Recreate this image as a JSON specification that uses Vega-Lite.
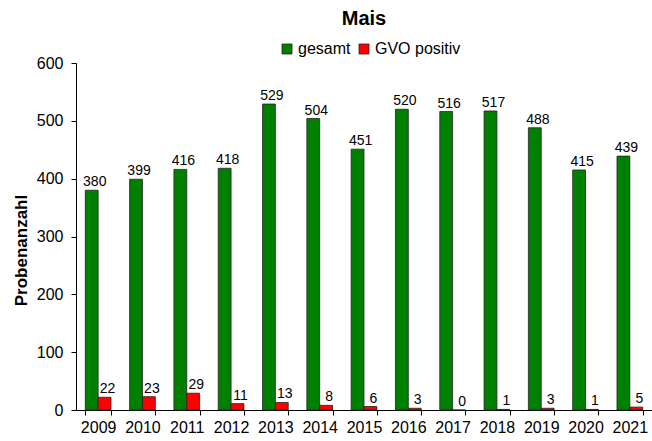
{
  "$schema": "https://vega.github.io/schema/vega-lite/v6.json",
  "width": 576,
  "height": 347,
  "autosize": "none",
  "padding": {"left": 76, "top": 63, "right": 0, "bottom": 31},
  "background": "white",
  "title": {"text": "Mais", "fontSize": 20, "fontWeight": "bold", "font": "Liberation Sans", "anchor": "middle", "offset": 12, "color": "black"},
  "config": {"view": {"stroke": null}, "font": "Liberation Sans"},
  "data": {"values": [
    {"year": "2009", "series": "gesamt", "value": 380}, {"year": "2009", "series": "GVO positiv", "value": 22},
    {"year": "2010", "series": "gesamt", "value": 399}, {"year": "2010", "series": "GVO positiv", "value": 23},
    {"year": "2011", "series": "gesamt", "value": 416}, {"year": "2011", "series": "GVO positiv", "value": 29},
    {"year": "2012", "series": "gesamt", "value": 418}, {"year": "2012", "series": "GVO positiv", "value": 11},
    {"year": "2013", "series": "gesamt", "value": 529}, {"year": "2013", "series": "GVO positiv", "value": 13},
    {"year": "2014", "series": "gesamt", "value": 504}, {"year": "2014", "series": "GVO positiv", "value": 8},
    {"year": "2015", "series": "gesamt", "value": 451}, {"year": "2015", "series": "GVO positiv", "value": 6},
    {"year": "2016", "series": "gesamt", "value": 520}, {"year": "2016", "series": "GVO positiv", "value": 3},
    {"year": "2017", "series": "gesamt", "value": 516}, {"year": "2017", "series": "GVO positiv", "value": 0},
    {"year": "2018", "series": "gesamt", "value": 517}, {"year": "2018", "series": "GVO positiv", "value": 1},
    {"year": "2019", "series": "gesamt", "value": 488}, {"year": "2019", "series": "GVO positiv", "value": 3},
    {"year": "2020", "series": "gesamt", "value": 415}, {"year": "2020", "series": "GVO positiv", "value": 1},
    {"year": "2021", "series": "gesamt", "value": 439}, {"year": "2021", "series": "GVO positiv", "value": 5}
  ]},
  "encoding": {
    "x": {"field": "year", "type": "nominal", "scale": {"paddingInner": 0.42, "paddingOuter": 0.21},
      "axis": {"title": null, "labelAngle": 0, "labelFontSize": 16, "labelColor": "black", "domainColor": "black", "tickColor": "black", "tickBand": "extent", "tickSize": 5, "labelPadding": 4}},
    "xOffset": {"field": "series", "type": "nominal", "sort": ["gesamt", "GVO positiv"], "scale": {"paddingInner": 0, "paddingOuter": 0}},
    "y": {"field": "value", "type": "quantitative", "scale": {"domain": [0, 600]},
      "axis": {"title": "Probenanzahl", "titleFontSize": 17, "titleFontWeight": "bold", "titleColor": "black", "titlePadding": 6, "titleY": 187, "grid": false, "values": [0,100,200,300,400,500,600], "labelOverlap": false, "labelFontSize": 16, "labelColor": "black", "domainColor": "black", "tickColor": "black", "tickSize": 5, "labelPadding": 8}}
  },
  "layer": [
    {"mark": {"type": "bar", "stroke": "#222", "strokeWidth": 0.8},
      "encoding": {"color": {"field": "series", "type": "nominal", "sort": ["gesamt", "GVO positiv"],
        "scale": {"domain": ["gesamt", "GVO positiv"], "range": ["#008000", "#ff0000"]},
        "legend": {"title": null, "orient": "none", "legendX": 203, "legendY": -22, "direction": "horizontal", "symbolType": "square", "symbolSize": 100, "symbolStrokeColor": "#222", "symbolStrokeWidth": 0.8, "labelFontSize": 16, "labelColor": "black", "columnPadding": 5, "labelOffset": 3}}}},
    {"mark": {"type": "text", "baseline": "bottom", "dy": -1, "dx": 3, "fontSize": 14, "color": "black"},
      "encoding": {"text": {"field": "value", "type": "quantitative"}}}
  ]
}
